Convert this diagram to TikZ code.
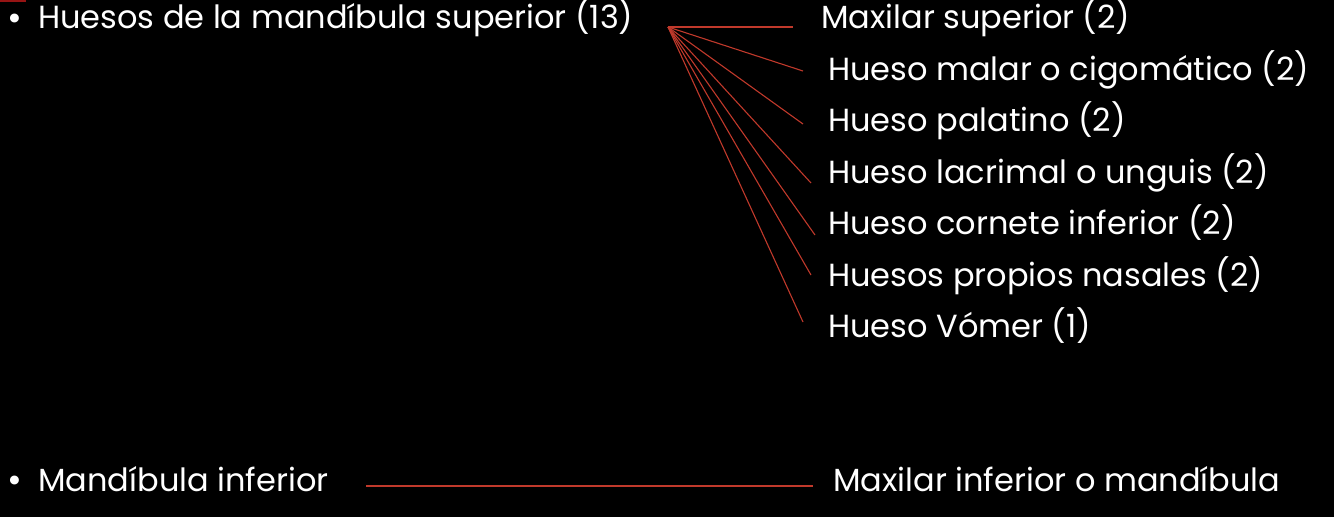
\documentclass[tikz,border=0pt]{standalone}
\usepackage{fontspec}
\setmainfont{Poppins}
\definecolor{linered}{RGB}{192,57,43}
\definecolor{markred}{RGB}{150,20,20}
\begin{document}
\begin{tikzpicture}[x=1pt,y=-1pt,
  lbl/.style={text=white,inner sep=0pt,anchor=base west,font=\fontsize{32}{38}\selectfont},
  bul/.style={text=white,inner sep=0pt,anchor=base,font=\fontsize{36}{40}\selectfont},
  thin/.style={draw=linered,line width=1.1pt},
  thick/.style={draw=linered,line width=2pt}]
\fill[black] (0,0) rectangle (1334,517);
\useasboundingbox (0,0) rectangle (1334,517);
\fill[markred] (0,0) rectangle (26,2);
% left items
\node[bul] (b1) at (15,30) {•};
\node[lbl] (sup) at (38,28) {Huesos de la mandíbula superior (13)};
\node[bul] (b2) at (15,492) {•};
\node[lbl] (inf) at (38,491) {Mandíbula inferior};
% right items
\node[lbl] (r1) at (821,28) {Maxilar superior (2)};
\node[lbl] (r2) at (828,80) {Hueso malar o cigomático (2)};
\node[lbl] (r3) at (828,131) {Hueso palatino (2)};
\node[lbl] (r4) at (828,183) {Hueso lacrimal o unguis (2)};
\node[lbl] (r5) at (828,234) {Hueso cornete inferior (2)};
\node[lbl] (r6) at (828,286) {Huesos propios nasales (2)};
\node[lbl] (r7) at (828,337) {Hueso Vómer (1)};
\node[lbl] (r8) at (833,491) {Maxilar inferior o mandíbula};
% connector ends
\coordinate (hub) at (668,27);
\coordinate (e1) at (793,27);
\coordinate (e2) at (803,71);
\coordinate (e3) at (803,124);
\coordinate (e4) at (811,183);
\coordinate (e5) at (815,235);
\coordinate (e6) at (811,275);
\coordinate (e7) at (803,322);
\coordinate (s8) at (366,486);
\coordinate (e8) at (813,486);
\foreach \e in {e1,e2,e3,e4,e5,e6,e7}{\draw[thin] (hub) -- (\e);}
\draw[thick] (s8) -- (e8);
\end{tikzpicture}
\end{document}
